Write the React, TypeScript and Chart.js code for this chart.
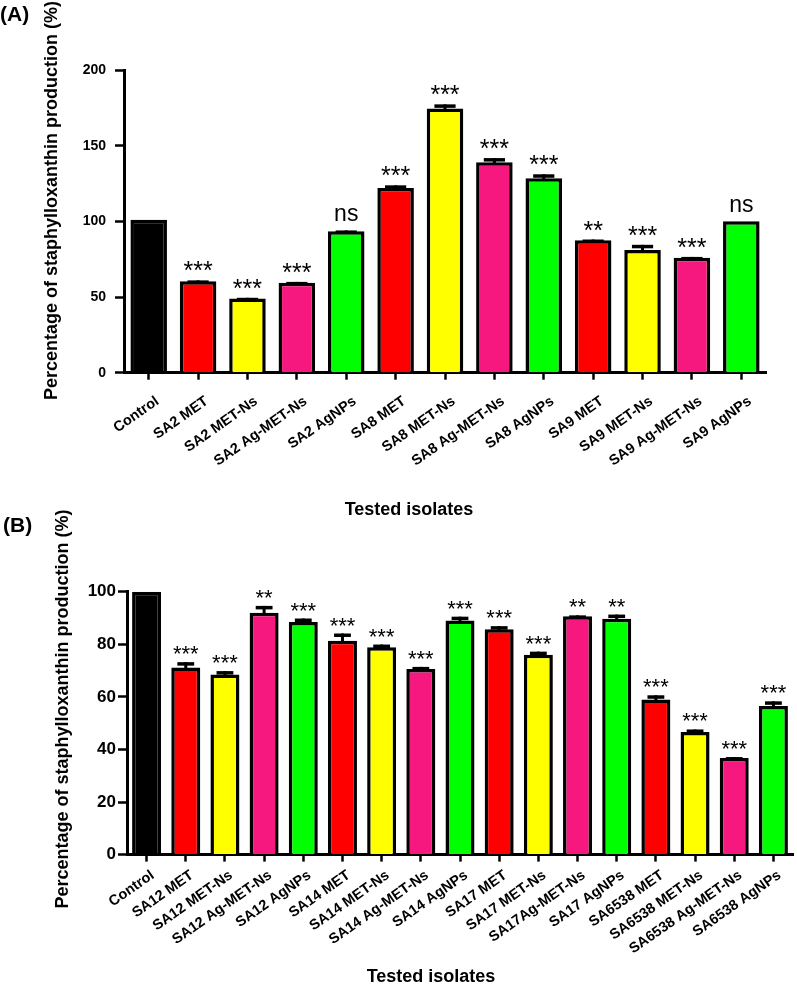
import React, { useEffect, useRef } from 'react';
import { Chart, registerables } from 'chart.js';

Chart.register(...registerables);

const FONT = '"Liberation Sans", Arial, Helvetica, sans-serif';

// ---------- Panel A data ----------
const labelsA = [
  'Control', 'SA2 MET', 'SA2 MET-Ns', 'SA2 Ag-MET-Ns', 'SA2 AgNPs',
  'SA8 MET', 'SA8 MET-Ns', 'SA8 Ag-MET-Ns', 'SA8 AgNPs',
  'SA9 MET', 'SA9 MET-Ns', 'SA9 Ag-MET-Ns', 'SA9 AgNPs',
];
const valuesA = [101, 60.5, 49, 59.5, 93.5, 122, 174.5, 139, 128.5, 87.5, 81, 76, 100];
const errorsA = [0, 0.5, 0.5, 0.5, 0.5, 1.8, 2.8, 2.8, 2.6, 0.5, 3.5, 0.5, 0];
const sigA = ['', '***', '***', '***', 'ns', '***', '***', '***', '***', '**', '***', '***', 'ns'];
const ticksA = [0, 50, 100, 150, 200];

// ---------- Panel B data ----------
const labelsB = [
  'Control', 'SA12 MET', 'SA12 MET-Ns', 'SA12 Ag-MET-Ns', 'SA12 AgNPs',
  'SA14 MET', 'SA14 MET-Ns', 'SA14 Ag-MET-Ns', 'SA14 AgNPs',
  'SA17 MET', 'SA17 MET-Ns', 'SA17Ag-MET-Ns', 'SA17 AgNPs',
  'SA6538 MET', 'SA6538 MET-Ns', 'SA6538 Ag-MET-Ns', 'SA6538 AgNPs',
];
const valuesB = [100, 71.2, 68.5, 92, 88.5, 81.3, 78.9, 70.6, 89, 85.7, 76, 90.7, 89.7, 59, 46.6, 36.7, 56.5];
const errorsB = [0, 2, 1.3, 2.6, 1.3, 2.8, 1, 0.8, 1.5, 1.2, 1.2, 0.3, 1.6, 1.6, 1, 0.4, 1.8];
const sigB = ['', '***', '***', '**', '***', '***', '***', '***', '***', '***', '***', '**', '**', '***', '***', '***', '***'];
const ticksB = [0, 20, 40, 60, 80, 100];

const controlColor = '#000000';
const groupColors = ['#FF0000', '#FFFF00', '#F7187F', '#00FF00'];

const Y_TITLE = 'Percentage of staphylloxanthin production (%)';
const X_TITLE = 'Tested isolates';

type Panel = {
  letter: string;
  labels: string[];
  values: number[];
  errors: number[];
  sig: string[];
  ticks: number[];
  width: number;
  height: number;
  area: { left: number; top: number; right: number; bottom: number };
  yTickSize: number;
  yTickPad: number;
  sigSize: number;
  nsSize: number;
  sigGap: number;
  labelDx: number;
  labelDy: number;
  yTitle: { x: number; y: number };
  xTitle: { x: number; y: number };
  letterPos: { x: number; y: number };
};

const panelA: Panel = {
  letter: '(A)',
  labels: labelsA, values: valuesA, errors: errorsA, sig: sigA, ticks: ticksA,
  width: 797, height: 530,
  area: { left: 124, top: 70, right: 766, bottom: 372.7 },
  yTickSize: 14, yTickPad: 9,
  sigSize: 25, nsSize: 23, sigGap: 9,
  labelDx: 11, labelDy: 30.5,
  yTitle: { x: 52, y: 200.5 },
  xTitle: { x: 409, y: 510 },
  letterPos: { x: 0, y: 15 },
};

const panelB: Panel = {
  letter: '(B)',
  labels: labelsB, values: valuesB, errors: errorsB, sig: sigB, ticks: ticksB,
  width: 797, height: 509,
  area: { left: 127, top: 111.7, right: 793, bottom: 374.6 },
  yTickSize: 17, yTickPad: 2,
  sigSize: 22, nsSize: 22, sigGap: 8,
  labelDx: 8.5, labelDy: 22.5,
  yTitle: { x: 63, y: 229 },
  xTitle: { x: 431, y: 497 },
  letterPos: { x: 3, y: 46.7 },
};

const LABEL_ANGLE = 35;

function makeChart(canvas: HTMLCanvasElement, p: Panel) {
  const colors = p.labels.map((_, i) => (i === 0 ? controlColor : groupColors[(i - 1) % 4]));
  const annot = {
    id: 'annot',
    afterDatasetsDraw(chart: any) {
      const ctx = chart.ctx as CanvasRenderingContext2D;
      const meta = chart.getDatasetMeta(0);
      const ys = chart.scales.y;
      ctx.save();
      meta.data.forEach((bar: any, i: number) => {
        let top = bar.y;
        const err = p.errors[i];
        if (err > 0) {
          const yT = ys.getPixelForValue(p.values[i] + err);
          ctx.fillStyle = '#000';
          ctx.fillRect(bar.x - 1.5, yT, 3, bar.y - yT + 2);
          const cw = bar.width * 0.58;
          ctx.fillRect(bar.x - cw / 2, yT, cw, 3.5);
          top = Math.min(yT, bar.y);
        }
        const s = p.sig[i];
        if (s) {
          const size = s === 'ns' ? p.nsSize : p.sigSize;
          ctx.font = `${size}px ${FONT}`;
          ctx.fillStyle = '#000';
          ctx.textAlign = 'center';
          ctx.textBaseline = 'alphabetic';
          const m = ctx.measureText(s);
          const bottom = top - p.sigGap;
          ctx.fillText(s, bar.x, bottom - m.actualBoundingBoxDescent);
        }
      });
      ctx.restore();
    },
    afterDraw(chart: any) {
      const ctx = chart.ctx as CanvasRenderingContext2D;
      const xs = chart.scales.x;
      ctx.save();
      ctx.fillStyle = '#000';
      // category labels, rotated
      ctx.font = `bold 14.5px ${FONT}`;
      ctx.textAlign = 'right';
      ctx.textBaseline = 'alphabetic';
      const ang = (LABEL_ANGLE * Math.PI) / 180;
      p.labels.forEach((lab, i) => {
        const x = xs.getPixelForValue(i);
        ctx.save();
        ctx.translate(x + p.labelDx, xs.top + p.labelDy);
        ctx.rotate(-ang);
        ctx.fillText(lab, 0, 0);
        ctx.restore();
      });
      // axis titles
      ctx.font = `bold 18px ${FONT}`;
      ctx.textAlign = 'center';
      ctx.textBaseline = 'middle';
      ctx.fillText(X_TITLE, p.xTitle.x, p.xTitle.y);
      ctx.save();
      ctx.translate(p.yTitle.x, p.yTitle.y);
      ctx.rotate(-Math.PI / 2);
      ctx.fillText(Y_TITLE, 0, 0);
      ctx.restore();
      // panel letter
      ctx.font = `bold 21px ${FONT}`;
      ctx.textAlign = 'left';
      ctx.fillText(p.letter, p.letterPos.x, p.letterPos.y);
      ctx.restore();
    },
  };

  return new Chart(canvas, {
    type: 'bar',
    data: {
      labels: p.labels,
      datasets: [
        {
          data: p.values,
          backgroundColor: colors,
          borderColor: '#000',
          borderWidth: 3.5,
          borderSkipped: 'bottom',
          barPercentage: 0.74,
          categoryPercentage: 1,
        },
      ],
    },
    options: {
      responsive: false,
      animation: false,
      events: [],
      layout: {
        padding: {
          left: 0,
          top: p.area.top,
          right: p.width - p.area.right,
          bottom: 0,
        },
      },
      plugins: {
        legend: { display: false },
        tooltip: { enabled: false },
        title: { display: false },
      },
      scales: {
        x: {
          type: 'category',
          offset: true,
          grid: {
            display: true,
            offset: false,
            drawOnChartArea: false,
            drawTicks: true,
            tickLength: 7,
            tickWidth: 2.5,
            tickColor: '#000',
          },
          border: { display: true, color: '#000', width: 3 },
          ticks: { display: false, autoSkip: false },
          afterFit: (scale: any) => {
            scale.height = p.height - p.area.bottom;
          },
        },
        y: {
          min: 0,
          max: p.ticks[p.ticks.length - 1],
          grid: {
            display: true,
            drawOnChartArea: false,
            drawTicks: true,
            tickLength: 9,
            tickWidth: 2.5,
            tickColor: '#000',
          },
          border: { display: true, color: '#000', width: 3 },
          ticks: {
            padding: p.yTickPad,
            color: '#000',
            font: { family: FONT, size: p.yTickSize, weight: 'bold' },
          },
          afterBuildTicks: (scale: any) => {
            scale.ticks = p.ticks.map((v) => ({ value: v }));
          },
          afterFit: (scale: any) => {
            scale.width = p.area.left;
          },
        },
      },
    },
    plugins: [annot],
  } as any);
}

function ChartPanel({ panel, top }: { panel: Panel; top: number }) {
  const ref = useRef<HTMLCanvasElement | null>(null);
  useEffect(() => {
    if (!ref.current) return;
    const c = makeChart(ref.current, panel);
    return () => c.destroy();
  }, [panel]);
  return (
    <div style={{ position: 'absolute', left: 0, top, width: panel.width, height: panel.height }}>
      <canvas
        ref={ref}
        width={panel.width}
        height={panel.height}
        style={{ display: 'block', width: panel.width, height: panel.height }}
      />
    </div>
  );
}

export default function App() {
  return (
    <div style={{ position: 'fixed', left: 0, top: 0, width: 797, height: 989, background: '#ffffff', overflow: 'hidden' }}>
      <ChartPanel panel={panelA} top={0} />
      <ChartPanel panel={panelB} top={480} />
    </div>
  );
}
